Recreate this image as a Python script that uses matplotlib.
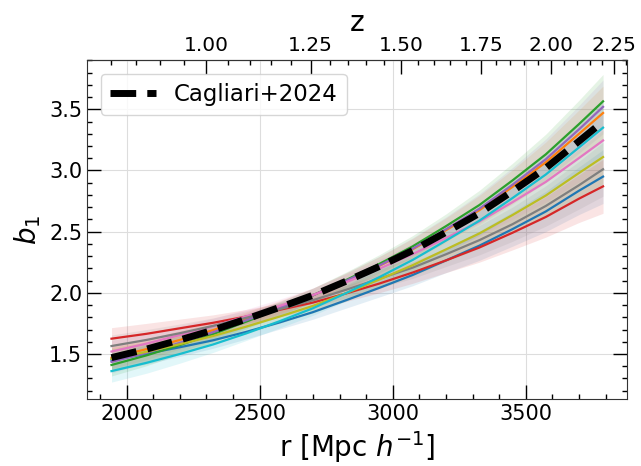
import numpy as np
import matplotlib
matplotlib.use("Agg")
import matplotlib.pyplot as plt
from matplotlib.ticker import MultipleLocator

# ---------------- data ----------------
r_vals = [1943, 2075, 2200, 2325, 2450, 2575, 2700, 2825, 2950, 3075,
          3200, 3325, 3450, 3575, 3700, 3790]

b_cagliari = [1.47, 1.54, 1.615, 1.695, 1.786, 1.881, 1.98, 2.095, 2.216, 2.346,
              2.495, 2.65, 2.831, 3.02, 3.24, 3.40]

b_blue   = [1.45, 1.502, 1.555, 1.612, 1.681, 1.758, 1.842, 1.94, 2.041, 2.146,
            2.265, 2.385, 2.521, 2.665, 2.835, 2.95]
b_orange = [1.47, 1.54, 1.615, 1.695, 1.786, 1.881, 1.98, 2.097, 2.221, 2.356,
            2.512, 2.675, 2.866, 3.067, 3.30, 3.47]
b_green  = [1.41, 1.489, 1.573, 1.663, 1.765, 1.871, 1.98, 2.105, 2.237, 2.38,
            2.545, 2.717, 2.919, 3.132, 3.38, 3.565]
b_red    = [1.625, 1.665, 1.71, 1.755, 1.806, 1.861, 1.92, 1.995, 2.076, 2.166,
            2.265, 2.37, 2.491, 2.62, 2.77, 2.87]
b_purple = [1.435, 1.51, 1.591, 1.678, 1.776, 1.876, 1.98, 2.099, 2.224, 2.361,
            2.52, 2.687, 2.884, 3.092, 3.337, 3.52]
b_pink   = [1.52, 1.585, 1.655, 1.727, 1.808, 1.893, 1.982, 2.087, 2.198, 2.316,
            2.448, 2.583, 2.741, 2.907, 3.102, 3.245]
b_gray   = [1.565, 1.615, 1.67, 1.73, 1.796, 1.866, 1.94, 2.025, 2.116, 2.206,
            2.315, 2.43, 2.561, 2.71, 2.88, 3.01]
b_olive  = [1.46, 1.518, 1.58, 1.647, 1.724, 1.806, 1.893, 1.998, 2.109, 2.226,
            2.355, 2.485, 2.636, 2.795, 2.98, 3.11]
b_cyan   = [1.36, 1.428, 1.50, 1.578, 1.669, 1.768, 1.874, 1.998, 2.129, 2.269,
            2.427, 2.589, 2.775, 2.967, 3.189, 3.35]

band_halfwidth = [0.09, 0.085, 0.075, 0.065, 0.058, 0.055, 0.058, 0.065, 0.075, 0.088,
                  0.10, 0.12, 0.14, 0.165, 0.195, 0.22]

z_ticks = [1.00, 1.25, 1.50, 1.75, 2.00, 2.25]
legend_label = "Cagliari+2024"

# ---------------- cosmology for the top axis ----------------
Om = 0.31
zg = np.linspace(0, 4, 4001)
Ez = np.sqrt(Om * (1 + zg) ** 3 + 1 - Om)
inv = 1.0 / Ez
rg = 2997.92458 * np.concatenate([[0], np.cumsum(0.5 * (inv[1:] + inv[:-1]) * np.diff(zg))])

def r2z(r):
    return np.interp(r, rg, zg)

def z2r(z):
    return np.interp(z, zg, rg)

# ---------------- plot ----------------
fig = plt.figure(figsize=(6.41, 4.66), dpi=100)
ax = fig.add_axes([87 / 641, 67 / 466, 540 / 641, 339 / 466])

r = np.array(r_vals)
hw = np.array(band_halfwidth)
series = [
    (b_blue, "tab:blue"), (b_orange, "tab:orange"), (b_green, "tab:green"),
    (b_red, "tab:red"), (b_purple, "tab:purple"), (b_pink, "tab:pink"),
    (b_gray, "tab:gray"), (b_olive, "tab:olive"), (b_cyan, "tab:cyan"),
]
for vals, col in series:
    v = np.array(vals)
    ax.fill_between(r, v - hw, v + hw, color=col, alpha=0.12, lw=0)
for vals, col in series:
    ax.plot(r, vals, color=col, lw=1.6)

ax.plot(r, b_cagliari, color="k", ls="--", lw=5, label=legend_label)

ax.set_xlim(1851, 3880)
ax.set_ylim(1.132, 3.903)
ax.grid(True, color="#dddddd", lw=0.8)
ax.set_axisbelow(True)

ax.xaxis.set_major_locator(MultipleLocator(500))
ax.xaxis.set_minor_locator(MultipleLocator(100))
ax.yaxis.set_major_locator(MultipleLocator(0.5))
ax.yaxis.set_minor_locator(MultipleLocator(0.1))
ax.tick_params(which="both", direction="in", top=False, right=True, labelsize=15)
ax.tick_params(which="major", length=10, width=1)
ax.tick_params(which="minor", length=3.5, width=1)

ax.set_xlabel(r"r [Mpc $h^{-1}$]", fontsize=20)
ax.set_ylabel(r"$b_1$", fontsize=20)

sec = ax.secondary_xaxis("top", functions=(r2z, z2r))
sec.set_xticks(z_ticks)
sec.set_xticklabels([f"{z:.2f}" for z in z_ticks])
sec.xaxis.set_minor_locator(MultipleLocator(0.05))
sec.tick_params(which="both", direction="in", labelsize=14.5)
sec.tick_params(which="major", length=10, width=1)
sec.tick_params(which="minor", length=3.5, width=1)
sec.set_xlabel("z", fontsize=20)

for s in list(ax.spines.values()) + list(sec.spines.values()):
    s.set_color("#333333")

ax.legend(loc="upper left", fontsize=16.5, handlelength=2.0, framealpha=0.8,
          borderaxespad=0.6)

fig.savefig("out.png", dpi=100)
